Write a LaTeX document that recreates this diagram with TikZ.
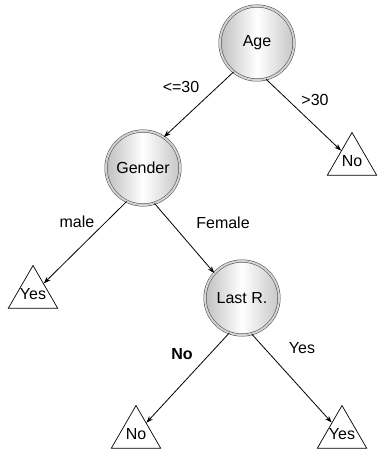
\documentclass[tikz,border=0pt]{standalone}
\usepackage{fontspec}
\setmainfont{Liberation Sans}
\usetikzlibrary{arrows.meta,shapes.geometric}

\tikzset{
  attr/.style={circle, minimum size=74pt, inner sep=0pt,
    left color=gray!50, right color=gray!45, middle color=white,
    draw=gray!55!black, double=gray!35, double distance=2pt, line width=0.5pt},
  leaf/.style={regular polygon, regular polygon sides=3, minimum size=57pt,
    inner sep=0pt, draw=black, line width=0.7pt},
  edge/.style={draw=black, line width=0.8pt, -{Stealth[length=7pt,width=5pt]}}
}

\begin{document}
\begin{tikzpicture}[x=1pt,y=-1pt]
\tikzstyle{every node}+=[font=\fontsize{16}{19}\selectfont]
\useasboundingbox (0,0) rectangle (378,454);
\node [attr] (age) at (257,43) {Age};
\node [attr] (gender) at (143,168) {Gender};
\node [attr] (lastr) at (242,298) {Last R.};
\node [leaf, label=center:No] (noA) at (352,161) {};
\node [leaf, label=center:Yes] (yesA) at (33,294) {};
\node [leaf, label=center:No] (noB) at (136,434) {};
\node [leaf, label=center:Yes] (yesB) at (342,434) {};
\draw [edge] (age.-129) -- (gender.56);
\draw [edge] (age.-76) -- (noA);
\draw [edge] (gender.-116) -- (yesA);
\draw [edge] (gender.-72) -- (lastr.138);
\draw [edge] (lastr.-110) -- (noB);
\draw [edge] (lastr.-75) -- (yesB);
\node (le30) at (181,87) {<=30};
\node (gt30) at (315,100) {>30};
\node (male) at (77,222) {male};
\node (female) at (223,223) {Female};
\node (lrno) at (182,354) {\bfseries No};
\node (lryes) at (302,348) {Yes};
\end{tikzpicture}
\end{document}
